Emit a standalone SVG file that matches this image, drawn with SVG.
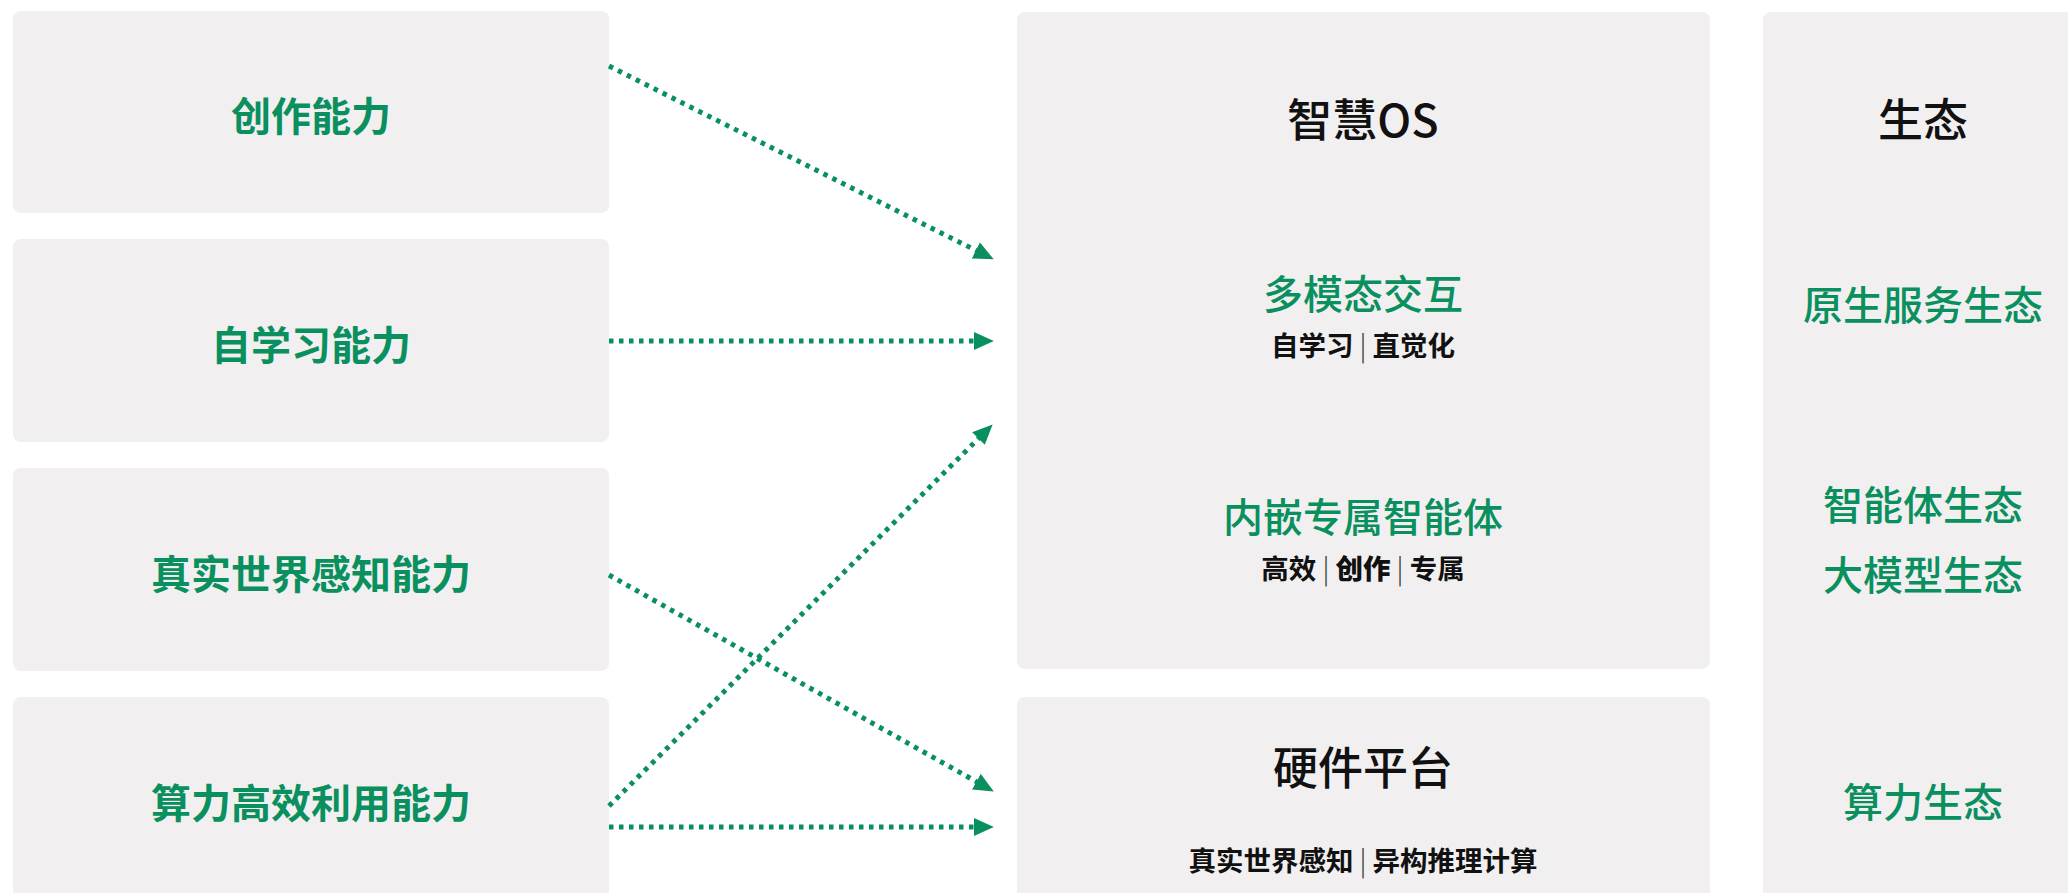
<svg xmlns="http://www.w3.org/2000/svg" width="2068" height="893" viewBox="0 0 2068 893">
<style>
.box{fill:#F1EFF0}
.t{font-family:"Noto Sans CJK SC","Liberation Sans",sans-serif;text-anchor:middle;dominant-baseline:central}
.lbl{font-size:40px;font-weight:700;fill:#0A8F5E}
.g{font-size:40px;font-weight:500;fill:#0A8F5E}
.h{font-size:45px;font-weight:500;fill:#111}
.s{font-size:27.5px;font-weight:600;fill:#111}
.sep{font-weight:300;fill:#333}
.b{font-weight:900}
.c{fill:none;stroke:#0A8F5E;stroke-width:5;stroke-dasharray:4.5 5.5}
</style>
<defs>
<marker id="ah" markerUnits="userSpaceOnUse" markerWidth="20" markerHeight="18" refX="3" refY="8.5" orient="auto" viewBox="0 0 19 17">
<path d="M0,0 L19,8.5 L0,17 Z" fill="#0A8F5E"/>
</marker>
</defs>
<rect width="2068" height="893" fill="#fff"/>
<g id="cap-create">
<rect class="box" x="13" y="11" width="596" height="202" rx="8"/>
<text class="t lbl" x="311" y="114">创作能力</text>
</g>
<g id="cap-learn">
<rect class="box" x="13" y="239" width="596" height="203" rx="8"/>
<text class="t lbl" x="311" y="343">自学习能力</text>
</g>
<g id="cap-perceive">
<rect class="box" x="13" y="468" width="596" height="203" rx="8"/>
<text class="t lbl" x="311" y="572">真实世界感知能力</text>
</g>
<g id="cap-compute">
<rect class="box" x="13" y="697" width="596" height="220" rx="8"/>
<text class="t lbl" x="311" y="801">算力高效利用能力</text>
</g>
<g id="smart-os">
<rect class="box" x="1017" y="12" width="693" height="657" rx="8"/>
<text class="t h" x="1363" y="117">智慧OS</text>
<text class="t g" x="1363" y="292">多模态交互</text>
<text class="t s" x="1363" y="344">自学习<tspan class="sep"> | </tspan>直觉化</text>
<text class="t g" x="1363" y="515">内嵌专属智能体</text>
<text class="t s" x="1363" y="567">高效<tspan class="sep"> | </tspan><tspan class="b">创作</tspan><tspan class="sep"> | </tspan>专属</text>
</g>
<g id="hardware">
<rect class="box" x="1017" y="697" width="693" height="220" rx="8"/>
<text class="t h" x="1363" y="765">硬件平台</text>
<text class="t s" x="1363" y="859">真实世界感知<tspan class="sep"> | </tspan>异构推理计算</text>
</g>
<g id="ecosystem">
<rect class="box" x="1763" y="12" width="330" height="905" rx="8"/>
<text class="t h" x="1923" y="117">生态</text>
<text class="t g" x="1923" y="303">原生服务生态</text>
<text class="t g" x="1923" y="503">智能体生态</text>
<text class="t g" x="1923" y="573">大模型生态</text>
<text class="t g" x="1923" y="800">算力生态</text>
</g>
<g id="connectors">
<line class="c" x1="609" y1="66" x2="978.7" y2="251.8" marker-end="url(#ah)"/>
<line class="c" x1="609" y1="341" x2="977" y2="341" marker-end="url(#ah)"/>
<line class="c" x1="609" y1="575" x2="979.1" y2="783.2" marker-end="url(#ah)"/>
<line class="c" x1="609" y1="806" x2="980.7" y2="436.3" marker-end="url(#ah)"/>
<line class="c" x1="609" y1="827" x2="977" y2="827" marker-end="url(#ah)"/>
</g>
</svg>
